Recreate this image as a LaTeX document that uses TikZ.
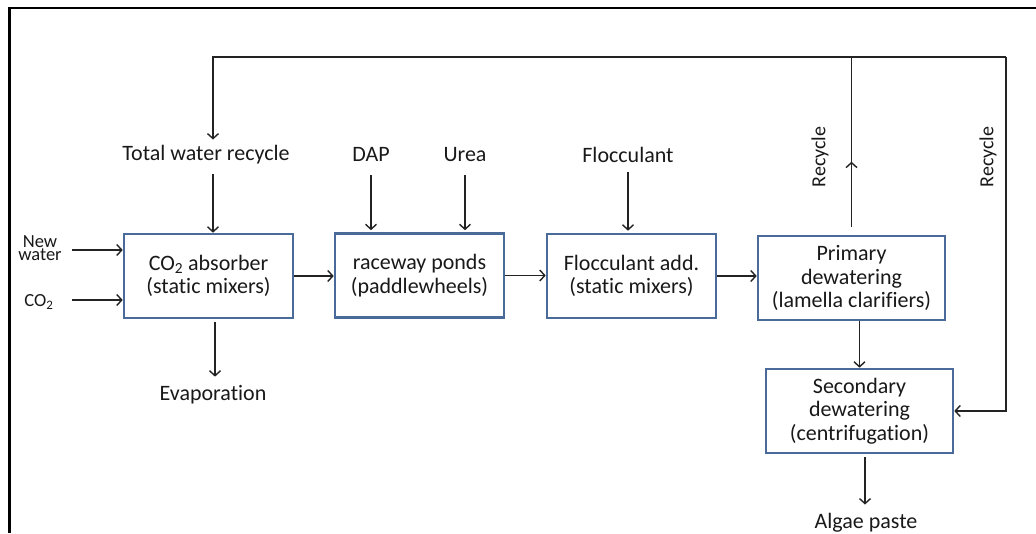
\documentclass[tikz,border=0pt]{standalone}
\usepackage{fontspec}
\setmainfont[Ligatures=NoCommon]{Carlito}
\usetikzlibrary{arrows.meta,calc}
\definecolor{boxblue}{RGB}{74,107,154}
\definecolor{wirecol}{RGB}{35,35,35}
\definecolor{txt}{RGB}{25,25,25}
\begin{document}
\begin{tikzpicture}[x=1pt,y=-1pt,
  proc/.style={draw=boxblue,line width=2.6pt,fill=white,inner sep=0pt,align=center,
    text=txt,font=\fontsize{22}{23.5}\selectfont,minimum height=84pt},
  lbl/.style={inner sep=2pt,text=txt,font=\fontsize{22}{24}\selectfont},
  small/.style={inner sep=1pt,text=txt,align=center,font=\fontsize{18.5}{10.5}\selectfont},
  wire/.style={draw=wirecol,line width=1.6pt},
  arr/.style={wire,-{Straight Barb[length=5pt,width=11pt,line width=1.4pt]}}]
\useasboundingbox (0,0) rectangle (1036,533);

% page frame
\draw[line width=2.2pt] (1036,8) -- (9,8);
\draw[line width=3pt] (9,7) -- (9,533);

% process blocks
\node[proc,minimum width=169pt] (b1) at (208.5,276) {CO\textsubscript{2} absorber\\(static mixers)};
\node[proc,minimum width=169pt] (b2) at (419.5,275.5) {raceway ponds\\(paddlewheels)};
\node[proc,minimum width=169pt] (b3) at (631.5,276) {Flocculant add.\\(static mixers)};
\node[proc,minimum width=187pt] (b4) at (851.5,278) {Primary\\dewatering\\(lamella clarifiers)};
\node[proc,minimum width=187pt] (b5) at (859.5,411) {Secondary\\dewatering\\(centrifugation)};

% stream labels
\node[lbl,anchor=base] (twr) at (206,160) {Total water recycle};
\node[lbl,anchor=base] (dap) at (371,161) {DAP};
\node[lbl,anchor=base] (urea) at (465,161) {Urea};
\node[lbl,anchor=base] (floc) at (628,162) {Flocculant};
\node[lbl,anchor=base] (evap) at (213,400) {Evaporation};
\node[lbl,anchor=base] (paste) at (866,528) {Algae paste};
\node[lbl,rotate=90,font=\fontsize{20}{22}\selectfont] (rec1) at (820,157) {Recycle};
\node[lbl,rotate=90,font=\fontsize{20}{22}\selectfont] (rec2) at (988,157) {Recycle};
\node[small] (nw) at (40,248) {New\\water};
\node[small] (co) at (39,302) {CO\textsubscript{2}};

% helper points
\coordinate (nwin) at (72,250);
\coordinate (coin) at (72,300);
\coordinate (tl) at (213,57);
\coordinate (tr) at (1006,57);
\coordinate (b1in) at ([xshift=4.5pt]b1.north);
\coordinate (b1out) at ([xshift=6.5pt]b1.south);
\coordinate (b5out) at ([xshift=5.5pt]b5.south);

% feeds into the absorber
\draw[arr] (nwin) -- (nwin -| b1.west);
\draw[arr] (coin) -- (coin -| b1.west);
\draw[arr,shorten <=8.5pt] (b1in |- twr.south) -- (b1in);
\draw[arr,shorten <=3pt,shorten >=6pt] (b1out) -- (b1out |- evap.north);

% nutrient and flocculant feeds
\draw[arr,shorten <=12pt,shorten >=2pt] (dap.south) -- (dap.south |- b2.north);
\draw[arr,shorten <=12pt,shorten >=2pt] (urea.south) -- (urea.south |- b2.north);
\draw[arr,shorten <=8pt,shorten >=2pt] (floc.south) -- (floc.south |- b3.north);

% main train
\draw[arr] (b1.east) -- (b1.east -| b2.west);
\draw[arr] (b2.east) -- (b2.east -| b3.west);
\draw[arr] (b3.east) -- (b3.east -| b4.west);
\draw[arr] (b4.south -| b5.north) -- (b5.north);
\draw[arr,shorten <=3pt,shorten >=6pt] (b5out) -- (b5out |- paste.north);

% recycle loops
\draw[wire] ([yshift=8pt]b4.north) -- (b4.north |- tl);
\draw[arr] ([yshift=8pt]b4.north) -- ([yshift=73pt]b4.north);
\draw[arr,shorten >=3pt] (tr) -- (tl) -- (tl |- twr.north);
\draw[arr] (tr) -- (tr |- b5.east) -- (b5.east);
\end{tikzpicture}
\end{document}
